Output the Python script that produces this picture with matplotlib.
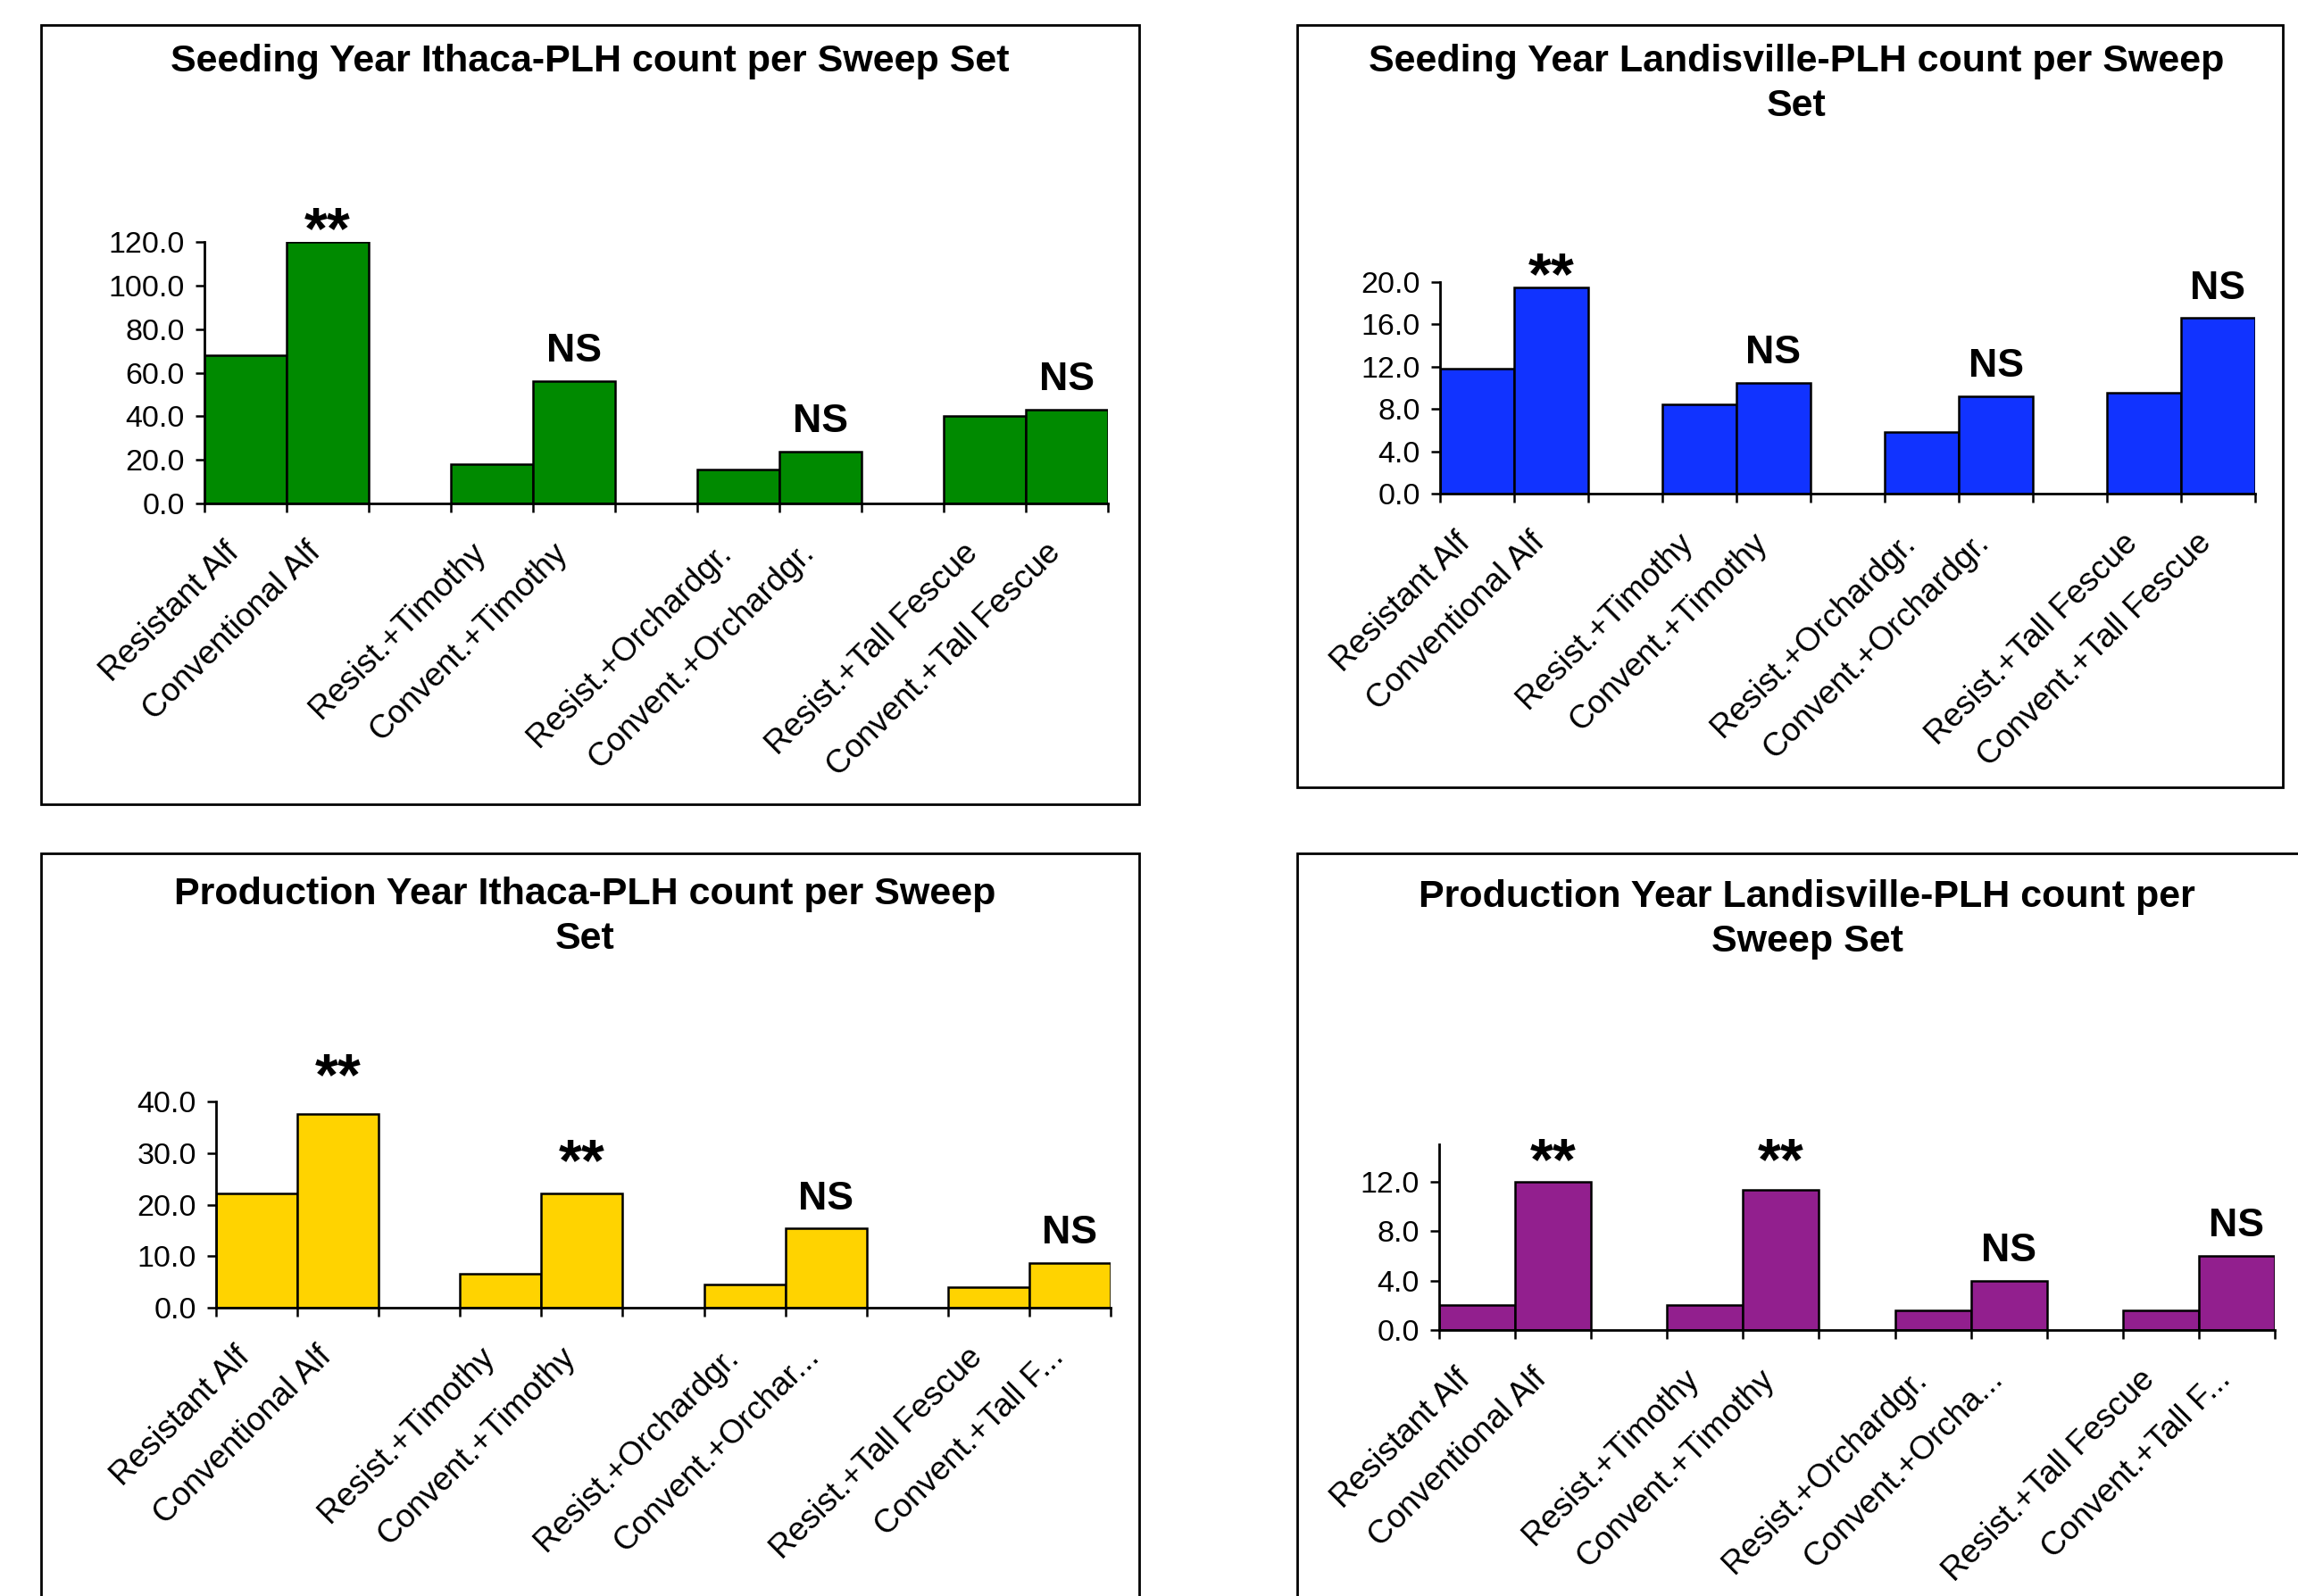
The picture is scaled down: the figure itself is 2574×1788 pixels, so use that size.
import matplotlib
matplotlib.use('Agg')
import matplotlib.pyplot as plt
from matplotlib.patches import Rectangle
from matplotlib.transforms import ScaledTranslation

plt.rcParams['font.family'] = ['Liberation Sans', 'DejaVu Sans']

W, H = 2574, 1788

# categories (blank entries are the gaps between treatment pairs)
cats_full = ['Resistant Alf', 'Conventional Alf', '',
             'Resist.+Timothy', 'Convent.+Timothy', '',
             'Resist.+Orchardgr.', 'Convent.+Orchardgr.', '',
             'Resist.+Tall Fescue', 'Convent.+Tall Fescue']
cats_bl = ['Resistant Alf', 'Conventional Alf', '',
           'Resist.+Timothy', 'Convent.+Timothy', '',
           'Resist.+Orchardgr.', 'Convent.+Orchar...', '',
           'Resist.+Tall Fescue', 'Convent.+Tall F...']
cats_br = ['Resistant Alf', 'Conventional Alf', '',
           'Resist.+Timothy', 'Convent.+Timothy', '',
           'Resist.+Orchardgr.', 'Convent.+Orcha...', '',
           'Resist.+Tall Fescue', 'Convent.+Tall F...']

# PLH counts per sweep set, one value per treatment
seed_ithaca = [68.0, 120.0, 18.2, 56.2, 15.6, 23.8, 40.3, 43.0]
seed_landis = [11.8, 19.5, 8.4, 10.5, 5.8, 9.2, 9.5, 16.6]
prod_ithaca = [22.1, 37.5, 6.6, 22.1, 4.5, 15.4, 4.0, 8.7]
prod_landis = [2.0, 12.0, 2.0, 11.3, 1.6, 4.0, 1.6, 6.0]

# significance mark over the conventional bar of each pair
sig_seed_ithaca = ['**', 'NS', 'NS', 'NS']
sig_seed_landis = ['**', 'NS', 'NS', 'NS']
sig_prod_ithaca = ['**', '**', 'NS', 'NS']
sig_prod_landis = ['**', '**', 'NS', 'NS']

# extra lift of the hand-placed marks (points)
lift_none = [0, 0, 0, 0]
lift_prod_ithaca = [21, 16, 0, 0]
lift_prod_landis = [7, 14, 0, 0]

fig = plt.figure(figsize=(W / 100, H / 100), dpi=100)


def box(x0, y0, x1, y1):
    # frame around each chart, in pixel coords from top-left
    r = Rectangle((x0 / W, 1 - y1 / H), (x1 - x0) / W, (y1 - y0) / H,
                  transform=fig.transFigure, fill=False, lw=2, ec='black')
    fig.add_artist(r)


def panel(rect, cats, values, marks, lifts, color, ymax, ystep, ytop):
    l, t, r, b = rect
    ax = fig.add_axes([l / W, 1 - b / H, (r - l) / W, (b - t) / H])
    xs = [i for i, c in enumerate(cats) if c]
    ax.bar(xs, values, width=1.0, color=color, edgecolor='black', linewidth=1.8)

    for k, m in enumerate(marks):
        i = 2 * k + 1
        if m == '**':
            ax.annotate(m, (xs[i], values[i]), xytext=(0, -5 + lifts[k]), textcoords='offset points',
                        ha='center', va='baseline', fontsize=48, fontweight='bold',
                        annotation_clip=False)
        else:
            ax.annotate(m, (xs[i], values[i]), xytext=(0, 15.5 + lifts[k]), textcoords='offset points',
                        ha='center', va='baseline', fontsize=32, fontweight='bold',
                        annotation_clip=False)

    ax.set_xlim(-0.5, len(cats) - 0.5)
    ax.set_ylim(0, ytop)
    ax.set_yticks([ystep * i for i in range(int(round(ymax / ystep)) + 1)])
    ax.set_yticklabels(['%.1f' % v for v in ax.get_yticks()], fontsize=24.5)
    ax.set_xticks(range(len(cats)))
    ax.set_xticklabels(cats, fontsize=26.5, rotation=45, ha='right', va='top',
                       rotation_mode='anchor')
    ax.set_xticks([i - 0.5 for i in range(len(cats) + 1)], minor=True)
    ax.tick_params(axis='x', which='major', length=0, pad=27)
    ax.tick_params(axis='x', which='minor', length=7.5, width=1.8, direction='out')
    ax.tick_params(axis='y', length=7, width=1.8, direction='out', pad=9)
    shift = ScaledTranslation(-0.25, 0, fig.dpi_scale_trans)
    for lab in ax.get_xticklabels():
        lab.set_transform(lab.get_transform() + shift)
    for s in ['top', 'right']:
        ax.spines[s].set_visible(False)
    for s in ['left', 'bottom']:
        ax.spines[s].set_linewidth(2)
    return ax


box(46, 28, 1276, 901)
box(1453, 28, 2557, 882)
box(46, 956, 1276, 1810)
box(1453, 956, 2600, 1810)

panel((229, 271, 1241, 564), cats_full, seed_ithaca, sig_seed_ithaca, lift_none,
      '#008A00', 120, 20, 120)
panel((1613, 316, 2526, 553), cats_full, seed_landis, sig_seed_landis, lift_none,
      '#1133FF', 20, 4, 20)
panel((242, 1234, 1244, 1465), cats_bl, prod_ithaca, sig_prod_ithaca, lift_prod_ithaca,
      '#FFD300', 40, 10, 40)
panel((1612, 1282, 2548, 1490), cats_br, prod_landis, sig_prod_landis, lift_prod_landis,
      '#921F8E', 12, 4, 15)

tkw = dict(ha='center', va='center', fontsize=31, fontweight='bold', linespacing=1.32)
fig.text(661 / W, 1 - 69 / H, 'Seeding Year Ithaca-PLH count per Sweep Set', **tkw)
fig.text(2012 / W, 1 - 94 / H, 'Seeding Year Landisville-PLH count per Sweep\nSet', **tkw)
fig.text(655 / W, 1 - 1027 / H, 'Production Year Ithaca-PLH count per Sweep\nSet', **tkw)
fig.text(2024 / W, 1 - 1030 / H, 'Production Year Landisville-PLH count per\nSweep Set', **tkw)

fig.savefig('out.png', dpi=100)
